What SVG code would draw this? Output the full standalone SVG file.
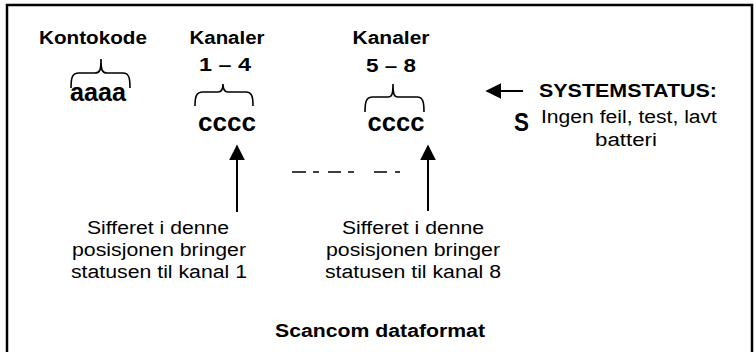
<svg xmlns="http://www.w3.org/2000/svg" width="756" height="352" viewBox="0 0 756 352">
<style>
text{font-family:"Liberation Sans",Arial,sans-serif;fill:#000}
.b{font-weight:bold;font-size:17.5px}
.r{font-size:18px}
.big{font-weight:bold;font-size:25px}
.brace{fill:none;stroke:#000;stroke-width:1.6}
.ln{stroke:#000;stroke-width:2;fill:none}
</style>
<defs>
<marker id="ah" viewBox="0 0 10 10" refX="9" refY="5" markerWidth="16" markerHeight="16" markerUnits="userSpaceOnUse" orient="auto"><path d="M0,0 L10,5 L0,10 Z" fill="#000"/></marker>
</defs>
<rect x="7" y="5" width="745" height="370" fill="#fff" stroke="#000" stroke-width="2.5"/>
<g id="kontokode">
<text class="b" x="93" y="44" text-anchor="middle" textLength="108" lengthAdjust="spacingAndGlyphs">Kontokode</text>
<path class="brace" d="M71,88 C71,78 72,73 79,73 L95,73 C100,73 101,70 101,59 C101,70 102,73 107,73 L123,73 C129,73 130,78 130,88"/>
<text class="big" x="98" y="101" text-anchor="middle" textLength="56" lengthAdjust="spacingAndGlyphs">aaaa</text>
</g>
<g id="kanaler14">
<text class="b" x="227" y="44" text-anchor="middle" textLength="75" lengthAdjust="spacingAndGlyphs">Kanaler</text>
<text class="b" x="225" y="71" text-anchor="middle" textLength="52" lengthAdjust="spacingAndGlyphs">1 – 4</text>
<path class="brace" d="M195,106 C195,97 196,92 203,92 L218,92 C222,92 223,89 223,84 C223,89 224,92 228,92 L246,92 C252,92 253,97 253,106"/>
<text class="big" x="227" y="131" text-anchor="middle" textLength="58" lengthAdjust="spacingAndGlyphs">cccc</text>
</g>
<g id="kanaler58">
<text class="b" x="391" y="44" text-anchor="middle" textLength="77" lengthAdjust="spacingAndGlyphs">Kanaler</text>
<text class="b" x="391" y="72" text-anchor="middle" textLength="50" lengthAdjust="spacingAndGlyphs">5 – 8</text>
<path class="brace" d="M365,112 C365,102 366,97 373,97 L388,97 C392,97 393,94 393,84 C393,94 394,97 398,97 L417,97 C423,97 424,102 424,112"/>
<text class="big" x="396" y="131" text-anchor="middle" textLength="57" lengthAdjust="spacingAndGlyphs">cccc</text>
</g>
<g id="systemstatus">
<text class="b" x="539" y="97" textLength="178" lengthAdjust="spacingAndGlyphs">SYSTEMSTATUS:</text>
<text class="big" x="514" y="131" font-size="23" textLength="15" lengthAdjust="spacingAndGlyphs">S</text>
<text class="r" x="541" y="123" textLength="176" lengthAdjust="spacingAndGlyphs">Ingen feil, test, lavt</text>
<text class="r" x="626" y="146" text-anchor="middle" textLength="62" lengthAdjust="spacingAndGlyphs">batteri</text>
</g>
<g id="note1">
<text class="r" x="158" y="234" text-anchor="middle" textLength="142" lengthAdjust="spacingAndGlyphs">Sifferet i denne</text>
<text class="r" x="159" y="256" text-anchor="middle" textLength="174" lengthAdjust="spacingAndGlyphs">posisjonen bringer</text>
<text class="r" x="159" y="278" text-anchor="middle" textLength="176" lengthAdjust="spacingAndGlyphs">statusen til kanal 1</text>
</g>
<g id="note8">
<text class="r" x="413" y="234" text-anchor="middle" textLength="142" lengthAdjust="spacingAndGlyphs">Sifferet i denne</text>
<text class="r" x="413" y="256" text-anchor="middle" textLength="174" lengthAdjust="spacingAndGlyphs">posisjonen bringer</text>
<text class="r" x="413" y="278" text-anchor="middle" textLength="176" lengthAdjust="spacingAndGlyphs">statusen til kanal 8</text>
</g>
<g id="title">
<text class="b" x="380" y="337" text-anchor="middle" textLength="210" lengthAdjust="spacingAndGlyphs">Scancom dataformat</text>
</g>
<g id="connectors">
<line class="ln" x1="237" y1="212" x2="237" y2="146" marker-end="url(#ah)"/>
<line class="ln" x1="428" y1="211" x2="428" y2="146" marker-end="url(#ah)"/>
<line class="ln" x1="523" y1="91" x2="487" y2="91" marker-end="url(#ah)"/>
<path d="M292,172 H306 M313,172 H319 M328,172 H341 M348,172 H354 M374,172 H387 M395,172 H400" stroke="#000" stroke-width="1.6" fill="none"/>
</g>
</svg>
